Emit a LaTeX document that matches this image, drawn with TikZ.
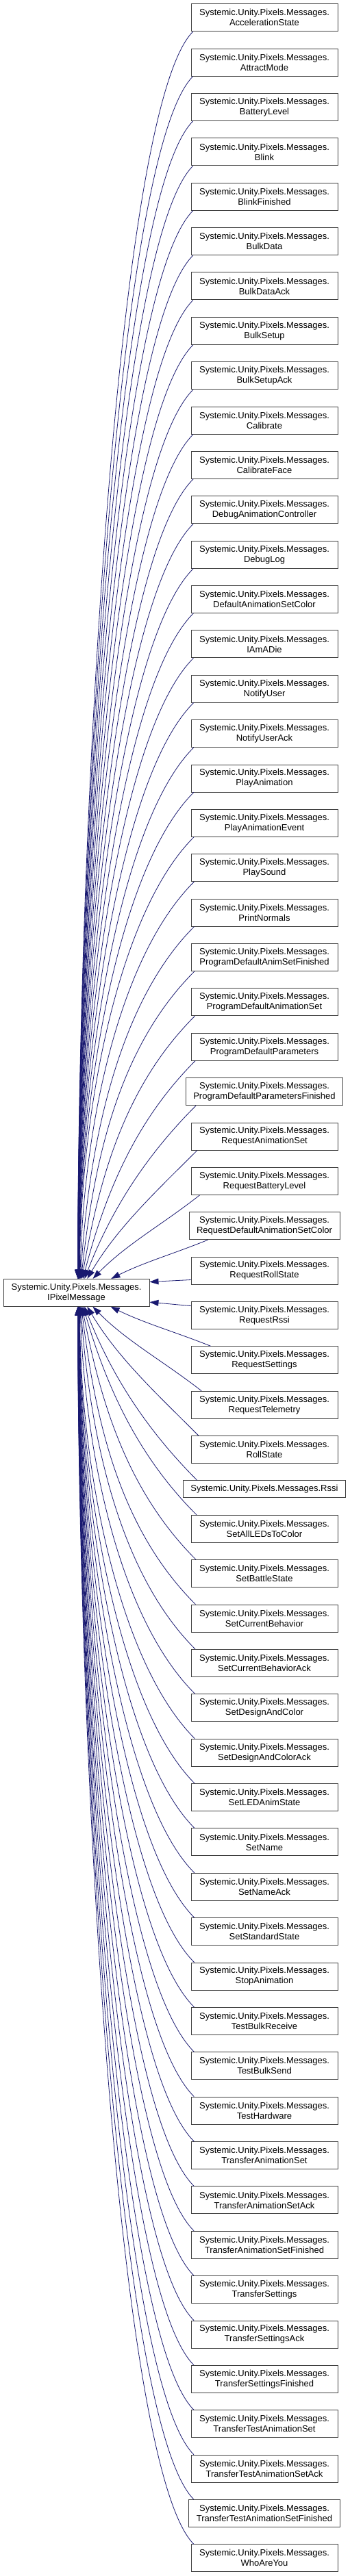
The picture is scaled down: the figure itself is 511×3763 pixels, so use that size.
\documentclass[tikz,border=0pt]{standalone}
\usepackage{fontspec}
\setmainfont{Liberation Sans}
\usetikzlibrary{arrows.meta}
\definecolor{edgeblue}{RGB}{25,25,112}

\begin{document}
\begin{tikzpicture}[x=1pt, y=1pt,
    every node/.style={font=\fontsize{13}{15}\selectfont},
    cls/.style={draw=black!75, line width=0.9pt, fill=white, align=center,
                inner xsep=11pt, inner ysep=2pt, minimum width=214pt, minimum height=40pt},
    inh/.style={draw=edgeblue, line width=0.8pt, -{Triangle[length=13pt, width=9pt]}}]
  \useasboundingbox (0,0) rectangle (511,-3763);
  \node[cls, minimum width=213pt] (base) at (111.5,-1888.3) {Systemic.Unity.Pixels.Messages.\\IPixelMessage};
  \foreach \lbl [count=\i from 0] in {AccelerationState, AttractMode, BatteryLevel, Blink, BlinkFinished,
      BulkData, BulkDataAck, BulkSetup, BulkSetupAck, Calibrate, CalibrateFace, DebugAnimationController,
      DebugLog, DefaultAnimationSetColor, IAmADie, NotifyUser, NotifyUserAck, PlayAnimation,
      PlayAnimationEvent, PlaySound, PrintNormals, ProgramDefaultAnimSetFinished,
      ProgramDefaultAnimationSet, ProgramDefaultParameters, ProgramDefaultParametersFinished,
      RequestAnimationSet, RequestBatteryLevel, RequestDefaultAnimationSetColor, RequestRollState,
      RequestRssi, RequestSettings, RequestTelemetry, RollState, Rssi, SetAllLEDsToColor,
      SetBattleState, SetCurrentBehavior, SetCurrentBehaviorAck, SetDesignAndColor,
      SetDesignAndColorAck, SetLEDAnimState, SetName, SetNameAck, SetStandardState, StopAnimation,
      TestBulkReceive, TestBulkSend, TestHardware, TransferAnimationSet, TransferAnimationSetAck,
      TransferAnimationSetFinished, TransferSettings, TransferSettingsAck, TransferSettingsFinished,
      TransferTestAnimationSet, TransferTestAnimationSetAck, TransferTestAnimationSetFinished,
      WhoAreYou}{
    \pgfmathsetmacro\yc{\i<33 ? 25.7+\i*65.37 : (\i>33 ? 10.7+\i*65.37 : 2175.4)}
    \ifnum\i=33
      \node[cls, minimum height=25pt] (m\i) at (386,-\yc) {Systemic.Unity.Pixels.Messages.\lbl};
    \else
      \node[cls] (m\i) at (386,-\yc) {Systemic.Unity.Pixels.Messages.\\\lbl};
    \fi
  }
  \foreach \i in {0,...,27}{
    \pgfmathsetmacro\sy{45.7+\i*65.37}
    \pgfmathsetmacro\dd{1868.3-\sy}
    \pgfmathsetmacro\sx{279+min(30,2+1300/\dd)}
    \pgfmathsetmacro\tx{112+2900/\dd}
    \pgfmathsetmacro\hh{\sx-\tx}
    \pgfmathsetmacro\ll{100*veclen(\hh/100,\dd/100)}
    \pgfmathsetmacro\aa{atan(\dd/\hh)}
    \pgfmathsetmacro\ts{min(45,\aa)}
    \pgfmathsetmacro\te{min(90,1.2*\aa)}
    \pgfmathsetmacro\ca{min(0.35*\ll,160)}
    \pgfmathsetmacro\cb{0.35*\ll}
    \draw[inh] (m\i.south -| \sx,0) .. controls +(180+\ts:\ca) and +(\te:\cb) .. (base.north -| \tx,0);
  }
  \draw[inh] ([yshift=7pt]m28.south west) -- ([yshift=-4.7pt]base.north east);
  \draw[inh] ([yshift=-6.6pt]m29.north west) -- ([yshift=6.6pt]base.south east);
  \foreach \i in {30,...,57}{
    \pgfmathsetmacro\sy{\i<33 ? 5.7+\i*65.37 : (\i>33 ? \i*65.37-9.3 : 2162.9)}
    \pgfmathsetmacro\dd{\sy-1908.3}
    \pgfmathsetmacro\sx{279+min(30,3+1500/\dd)}
    \pgfmathsetmacro\tx{112+2900/\dd}
    \pgfmathsetmacro\hh{\sx-\tx}
    \pgfmathsetmacro\ll{100*veclen(\hh/100,\dd/100)}
    \pgfmathsetmacro\aa{atan(\dd/\hh)}
    \pgfmathsetmacro\ts{min(45,\aa)}
    \pgfmathsetmacro\te{min(90,1.2*\aa)}
    \pgfmathsetmacro\ca{min(0.35*\ll,160)}
    \pgfmathsetmacro\cb{0.35*\ll}
    \draw[inh] (m\i.north -| \sx,0) .. controls +(180-\ts:\ca) and +(-\te:\cb) .. (base.south -| \tx,0);
  }
\end{tikzpicture}
\end{document}
